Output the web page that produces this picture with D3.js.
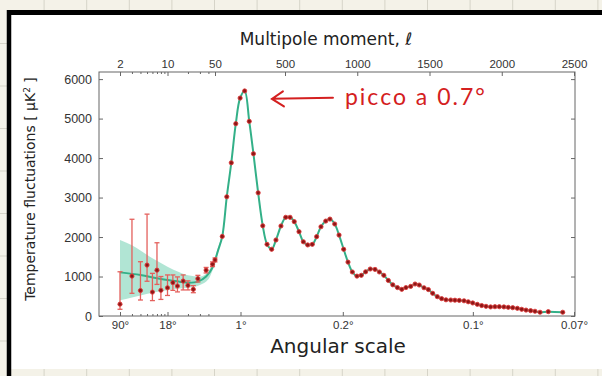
<!DOCTYPE html>
<html>
<head>
<meta charset="utf-8">
<script src="https://cdnjs.cloudflare.com/ajax/libs/d3/7.8.5/d3.min.js"></script>
<style>
  body { margin: 0; background: #f4f2e8; }
  svg { display: block; font-family: "DejaVu Sans", sans-serif; }
</style>
</head>
<body>
<svg id="chart" width="602" height="376"></svg>
<script>
// low multipoles (individual points with error bars)
const lowEll = [2, 3, 4, 5, 6, 7, 8, 10, 12, 14, 17, 20, 24, 28, 37, 46, 50];
const lowD = [300, 1010, 645, 1290, 605, 1160, 650, 715, 845, 760, 885, 775, 675, 945, 1160, 1310, 1420];
const lowErrLo = [170, 575, 405, 880, 390, 800, 420, 520, 650, 610, 660, 660, 590, 860, 1090, 1250, 1370];
const lowErrHi = [1120, 2450, 1375, 2580, 1080, 1855, 1000, 1040, 1040, 990, 1040, 890, 770, 1030, 1230, 1370, 1470];

// binned high multipoles
const highEll = [87, 110, 133, 156, 178, 210, 243, 273, 307, 340, 371, 404, 435, 471, 505, 535, 564, 597,
  627, 657, 689, 719, 749, 782, 811, 844, 874, 906, 936, 966, 998, 1028, 1058, 1090, 1123, 1153, 1184,
  1215, 1246, 1278, 1308, 1337, 1370, 1400, 1429, 1462, 1492, 1522, 1554, 1584, 1614, 1647, 1676, 1706,
  1739, 1768, 1799, 1831, 1861, 1891, 1923, 1953, 1983, 2015, 2045, 2076, 2108, 2138, 2168, 2200, 2230,
  2265, 2322, 2422];
const highD = [2015, 3020, 3880, 4870, 5520, 5700, 4930, 4110, 3120, 2285, 1815, 1690, 1925, 2280, 2500, 2500,
  2390, 2135, 1880, 1800, 1815, 2010, 2260, 2405, 2455, 2330, 2050, 1690, 1365, 1115, 1010, 1030, 1120,
  1190, 1180, 1115, 1030, 900, 790, 720, 675, 720, 750, 810, 785, 715, 670, 575, 490, 440, 410, 405, 400,
  395, 385, 360, 330, 295, 265, 245, 230, 235, 235, 230, 220, 210, 195, 170, 150, 135, 120, 95, 110, 95];

// best-fit model at low multipoles (above ell ~ 90 it runs through the binned points)
const modelLowEll = [2, 4, 7, 10, 15, 20, 28, 37, 46, 50, 65];
const modelLowD = [1105, 1040, 955, 910, 870, 845, 870, 1000, 1230, 1400, 1650];

// cosmic variance band
const bandEll = [2, 3, 4, 6, 10, 15, 20, 30, 40, 50, 65, 87];
const bandLo = [400, 470, 520, 590, 650, 695, 715, 785, 930, 1340, 1600, 1980];
const bandHi = [1925, 1790, 1660, 1460, 1250, 1110, 1030, 1000, 1130, 1500, 1720, 2050];

// axis ticks
const topLogTicks = [2, 10];
const topLinTicks = [50, 500, 1000, 1500, 2000, 2500];
const minorTicks = [3, 4, 5, 6, 7, 8, 9, 20, 30, 40];
const angEll = [2, 10, 180, 900, 1800, 2500];
const angLabels = ['90°', '18°', '1°', '0.2°', '0.1°', '0.07°'];
const yTicks = [0, 1000, 2000, 3000, 4000, 5000, 6000];

const W = 602, H = 376;
const F = {l: 99, r: 575, t: 72, b: 316};

const svg = d3.select('#chart');

// squared paper behind the page
svg.append('rect').attr('width', W).attr('height', H).attr('fill', '#f4f2e8');
const paper = svg.append('g').attr('stroke', '#d6d4c8').attr('stroke-width', 1);
d3.range(1, 15).forEach(i => {
  paper.append('line').attr('x1', i * 42.6 + 1.5).attr('x2', i * 42.6 + 1.5).attr('y1', 0).attr('y2', H);
});
d3.range(1, 9).forEach(i => {
  paper.append('line').attr('x1', 0).attr('x2', W).attr('y1', i * 42.5 + 1).attr('y2', i * 42.5 + 1);
});
svg.append('rect').attr('x', 11).attr('y', 14).attr('width', W - 11).attr('height', 355).attr('fill', '#fff');
svg.append('line').attr('x1', 9).attr('x2', 9).attr('y1', 10).attr('y2', H)
  .attr('stroke', '#000').attr('stroke-width', 4.5);
svg.append('line').attr('x1', 7).attr('x2', W).attr('y1', 12.5).attr('y2', 12.5)
  .attr('stroke', '#000').attr('stroke-width', 5);

// scales: log for ell < 50, linear above
const xLog = d3.scaleLog().domain([2, 50]).range([120, 215]);
const xLin = d3.scaleLinear().domain([50, 180, 500, 2500]).range([215, 240.5, 285, 574]);
const x = l => l < 50 ? xLog(l) : xLin(l);
const y = d3.scaleLinear().domain([0, 6180]).range([F.b, F.t]);

const plot = svg.append('g');

// band
const band = bandEll.map((l, i) => ({l: l, lo: bandLo[i], hi: bandHi[i]}));
plot.append('path')
  .datum(band)
  .attr('d', d3.area().x(d => x(d.l)).y0(d => y(d.lo)).y1(d => y(d.hi)).curve(d3.curveMonotoneX))
  .attr('fill', '#a9e2cf')
  .attr('opacity', 0.9);

// model line
const modelEll = modelLowEll.concat(highEll);
const modelD = modelLowD.concat(highD);
plot.append('path')
  .datum(modelEll.map((l, i) => [l, modelD[i]]))
  .attr('d', d3.line().x(d => x(d[0])).y(d => y(d[1])).curve(d3.curveCatmullRom.alpha(0.5)))
  .attr('fill', 'none')
  .attr('stroke', '#33b088')
  .attr('stroke-width', 2);

// error bars
const errs = plot.append('g').attr('stroke', '#e4605c').attr('stroke-width', 1.3);
lowEll.forEach((l, i) => {
  const cx = x(l);
  errs.append('line').attr('x1', cx).attr('x2', cx).attr('y1', y(lowErrLo[i])).attr('y2', y(lowErrHi[i]));
  [lowErrLo[i], lowErrHi[i]].forEach(v => {
    errs.append('line').attr('x1', cx - 2.5).attr('x2', cx + 2.5).attr('y1', y(v)).attr('y2', y(v));
  });
});

// points
const pts = lowEll.map((l, i) => [l, lowD[i]]).concat(highEll.map((l, i) => [l, highD[i]]));
plot.selectAll('.pt')
  .data(pts)
  .enter()
  .append('circle')
  .classed('pt', true)
    .attr('cx', d => x(d[0]))
    .attr('cy', d => y(d[1]))
    .attr('r', 2.1)
    .attr('fill', '#8e1616')
    .attr('stroke', '#dc3b3b')
    .attr('stroke-width', 0.9);

// frame
svg.append('rect')
  .attr('x', F.l).attr('y', F.t).attr('width', F.r - F.l).attr('height', F.b - F.t)
  .attr('fill', 'none').attr('stroke', '#666').attr('stroke-width', 1);

function styleAxis(g, size) {
  g.select('.domain').remove();
  g.selectAll('line').attr('stroke', '#666');
  g.selectAll('text').attr('fill', '#333').style('font-size', size + 'px');
}

// top axis (multipole)
svg.append('g').attr('transform', `translate(0,${F.t})`)
  .call(d3.axisTop(xLog).tickValues(topLogTicks).tickFormat(d3.format('d')).tickSizeInner(-4).tickSizeOuter(0).tickPadding(4))
  .call(g => styleAxis(g, 11.5));
svg.append('g').attr('transform', `translate(0,${F.t})`)
  .call(d3.axisTop(xLin).tickValues(topLinTicks).tickFormat(d3.format('d')).tickSizeInner(-4).tickSizeOuter(0).tickPadding(4))
  .call(g => styleAxis(g, 11.5));
svg.append('g').attr('transform', `translate(0,${F.t})`)
  .call(d3.axisTop(xLog).tickValues(minorTicks).tickFormat('').tickSizeInner(-2).tickSizeOuter(0))
  .call(g => styleAxis(g, 11));

// bottom axis (angular scale)
const angFmt = l => angLabels[angEll.indexOf(l)];
svg.append('g').attr('transform', `translate(0,${F.b})`)
  .call(d3.axisBottom(xLog).tickValues(angEll.filter(l => l < 50)).tickFormat(angFmt).tickSizeInner(-4).tickSizeOuter(0).tickPadding(5))
  .call(g => styleAxis(g, 11.5));
svg.append('g').attr('transform', `translate(0,${F.b})`)
  .call(d3.axisBottom(xLin).tickValues(angEll.filter(l => l >= 50)).tickFormat(angFmt).tickSizeInner(-4).tickSizeOuter(0).tickPadding(5))
  .call(g => styleAxis(g, 11.5));
svg.append('g').attr('transform', `translate(0,${F.b})`)
  .call(d3.axisBottom(xLog).tickValues(minorTicks).tickFormat('').tickSizeInner(-2).tickSizeOuter(0))
  .call(g => styleAxis(g, 11));

// y axes
svg.append('g').attr('transform', `translate(${F.l},0)`)
  .call(d3.axisLeft(y).tickValues(yTicks).tickFormat(d3.format('d')).tickSizeInner(-4).tickSizeOuter(0).tickPadding(7))
  .call(g => styleAxis(g, 12.5));
svg.append('g').attr('transform', `translate(${F.r},0)`)
  .call(d3.axisRight(y).tickValues(yTicks).tickFormat('').tickSizeInner(-4).tickSizeOuter(0))
  .call(g => styleAxis(g, 12));

// axis titles
svg.append('text')
  .attr('x', 326).attr('y', 45)
  .attr('text-anchor', 'middle')
  .style('font-size', '17px').attr('fill', '#222')
  .text('Multipole moment, ℓ');
svg.append('text')
  .attr('x', 338).attr('y', 353)
  .attr('text-anchor', 'middle')
  .style('font-size', '20px').attr('fill', '#222')
  .text('Angular scale');
const yl = svg.append('text')
  .attr('transform', 'translate(35,189) rotate(-90)')
  .attr('text-anchor', 'middle')
  .style('font-size', '14px').attr('fill', '#222');
yl.append('tspan').text('Temperature fluctuations [ μK');
yl.append('tspan').attr('baseline-shift', 'super').style('font-size', '9px').text('2');
yl.append('tspan').text(' ]');

// handwritten note
const note = {tipEll: 406, endEll: 832, textEll: 915, d: 5500, text: 'picco a 0.7°'};
const tx = x(note.tipEll), ty = y(note.d);
svg.append('path')
  .attr('d', `M${x(note.endEll)},${ty - 1} L${tx},${ty} M${tx + 11},${ty - 7.5} L${tx},${ty} L${tx + 12},${ty + 7.5}`)
  .attr('fill', 'none')
  .attr('stroke', '#d42020')
  .attr('stroke-width', 2)
  .attr('stroke-linecap', 'round');
svg.append('text')
  .attr('x', x(note.textEll)).attr('y', ty + 6)
  .style('font-family', 'Lato, sans-serif')
  .style('font-size', '23px')
  .style('letter-spacing', '2px')
  .attr('fill', '#d42020')
  .text(note.text);
</script>
</body>
</html>
